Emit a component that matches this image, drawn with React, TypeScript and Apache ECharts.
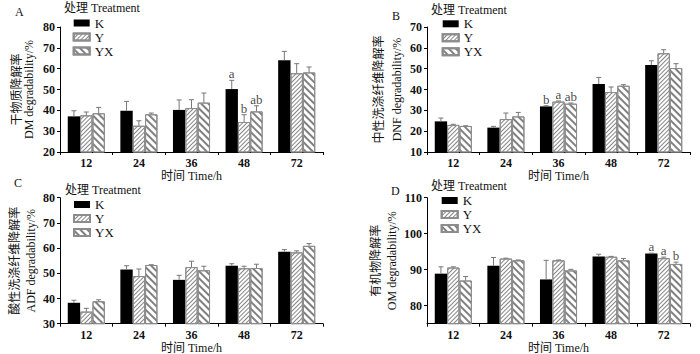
import React, { useEffect, useRef } from "react";
import * as echarts from "echarts";

const categories = ["12", "24", "36", "48", "72"];
const seriesNames = ["K", "Y", "YX"];

// A: DM degradability
const dmK = [37.1, 39.8, 40.2, 50.2, 64.0];
const dmY = [37.6, 32.6, 41.1, 34.4, 57.8];
const dmYX = [38.6, 38.1, 43.7, 39.5, 58.2];
const dmKErr = [2.7, 4.5, 4.8, 4.2, 4.3];
const dmYErr = [1.6, 2.4, 4.0, 3.5, 4.6];
const dmYXErr = [2.8, 0.6, 4.6, 2.7, 2.6];
const dmKSig = ["", "", "", "a", ""];
const dmYSig = ["", "", "", "b", ""];
const dmYXSig = ["", "", "", "ab", ""];

// B: NDF degradability
const dnfK = [24.7, 21.7, 31.9, 42.6, 51.8];
const dnfY = [23.0, 25.8, 34.2, 38.8, 57.4];
const dnfYX = [22.5, 27.1, 33.2, 41.8, 50.3];
const dnfKErr = [1.6, 0.6, 0.3, 3.2, 2.0];
const dnfYErr = [0.3, 2.9, 0.3, 2.4, 1.7];
const dnfYXErr = [0.1, 1.9, 0.3, 0.5, 2.1];
const dnfKSig = ["", "", "b", "", ""];
const dnfYSig = ["", "", "a", "", ""];
const dnfYXSig = ["", "", "ab", "", ""];

// C: ADF degradability
const adfK = [38.3, 51.5, 47.4, 53.0, 58.6];
const adfY = [34.8, 48.9, 52.5, 52.0, 58.3];
const adfYX = [38.9, 53.3, 51.2, 52.1, 60.9];
const adfKErr = [1.0, 1.5, 1.8, 0.8, 0.8];
const adfYErr = [1.3, 2.8, 2.3, 0.8, 0.6];
const adfYXErr = [0.6, 0.1, 1.6, 1.5, 0.9];
const adfKSig = ["", "", "", "", ""];
const adfYSig = ["", "", "", "", ""];
const adfYXSig = ["", "", "", "", ""];

// D: OM degradability
const omK = [88.9, 91.1, 87.3, 93.7, 94.5];
const omY = [90.6, 93.1, 92.6, 93.6, 93.2];
const omYX = [87.0, 92.6, 89.8, 92.6, 91.6];
const omKErr = [1.9, 2.3, 5.3, 0.6, 0.1];
const omYErr = [0.2, 0.1, 0.1, 0.1, 0.3];
const omYXErr = [1.1, 0.1, 0.3, 0.5, 0.5];
const omKSig = ["", "", "", "", "a"];
const omYSig = ["", "", "", "", "a"];
const omYXSig = ["", "", "", "", "b"];

const ticksA = [20, 30, 40, 50, 60, 70, 80];
const ticksB = [10, 20, 30, 40, 50, 60, 70];
const ticksC = [30, 40, 50, 60, 70, 80];
const ticksD = [80, 90, 100, 110];

const FONT = "'Liberation Serif', 'Times New Roman', 'Noto Sans CJK SC', serif";
const GAP = 0.295;
const BAND = 263 / 5;
const BAR_W = (BAND * (1 - GAP)) / 3;

const panels = [
  {
    tag: "A",
    grid: { left: 60, top: 27, width: 263, height: 125 },
    min: 20, max: 80, ticks: ticksA,
    yName: "干物质降解率\nDM degradability/%", nameGap: 25, nameLH: 12,
    values: [dmK, dmY, dmYX], errs: [dmKErr, dmYErr, dmYXErr], sig: [dmKSig, dmYSig, dmYXSig],
    legend: { left: 72.7, top: 16.5 },
    tagPos: [15, 11.5], titlePos: [64, 7.5],
  },
  {
    tag: "B",
    grid: { left: 427, top: 27, width: 263, height: 125 },
    min: 10, max: 70, ticks: ticksB,
    yName: "中性洗涤纤维降解率\nDNF degradability/%", nameGap: 21, nameLH: 18,
    values: [dnfK, dnfY, dnfYX], errs: [dnfKErr, dnfYErr, dnfYXErr], sig: [dnfKSig, dnfYSig, dnfYXSig],
    legend: { left: 441.7, top: 17.3 },
    tagPos: [392, 15.5], titlePos: [431, 10],
  },
  {
    tag: "C",
    grid: { left: 60, top: 197.7, width: 263, height: 126 },
    min: 30, max: 80, ticks: ticksC,
    yName: "酸性洗涤纤维降解率\nADF degradability/%", nameGap: 21, nameLH: 16,
    values: [adfK, adfY, adfYX], errs: [adfKErr, adfYErr, adfYXErr], sig: [adfKSig, adfYSig, adfYXSig],
    legend: { left: 73, top: 198 },
    tagPos: [14, 183], titlePos: [65, 190],
  },
  {
    tag: "D",
    grid: { left: 427, top: 197.7, width: 263, height: 126 },
    min: 75, max: 110, ticks: ticksD,
    yName: "有机物降解率\nOM degradability/%", nameGap: 23, nameLH: 16,
    values: [omK, omY, omYX], errs: [omKErr, omYErr, omYXErr], sig: [omKSig, omYSig, omYXSig],
    legend: { left: 440.7, top: 194 },
    tagPos: [391, 191], titlePos: [431, 186],
  },
];

const barStyles = [
  { color: "#000", borderColor: "#000", borderWidth: 0 },
  {
    color: "#fff", borderColor: "#8c8c8c", borderWidth: 1,
    decal: { symbol: "rect", symbolSize: 1, dashArrayX: [1, 0], dashArrayY: [1, 1.5], rotation: -Math.PI / 4, color: "#858585" },
  },
  {
    color: "#fff", borderColor: "#8c8c8c", borderWidth: 1,
    decal: { symbol: "rect", symbolSize: 1, dashArrayX: [1, 0], dashArrayY: [1.3, 3], rotation: Math.PI / 4, color: "#808080" },
  },
];

function buildOption() {
  const grid: any[] = [];
  const xAxis: any[] = [];
  const yAxis: any[] = [];
  const series: any[] = [];
  const legend: any[] = [];
  const graphic: any[] = [];

  panels.forEach((p, i) => {
    grid.push({ ...p.grid, outerBoundsMode: "none", containLabel: false });
    xAxis.push({
      type: "category", gridIndex: i, data: categories,
      name: "时间 Time/h", nameLocation: "middle", nameGap: 16,
      nameTextStyle: { fontFamily: FONT, fontSize: 12, color: "#111" },
      axisLine: { show: true, lineStyle: { color: "#000", width: 1 } },
      axisTick: { show: true, length: 3, inside: false, alignWithLabel: false, lineStyle: { color: "#000" } },
      axisLabel: { fontFamily: FONT, fontSize: 12, fontWeight: "bold", color: "#111", margin: 5 },
      splitLine: { show: false },
    });
    yAxis.push({
      type: "value", gridIndex: i, min: p.min, max: p.max,
      name: p.yName, nameLocation: "middle", nameGap: p.nameGap, nameRotate: 90,
      nameTextStyle: { fontFamily: FONT, fontSize: 12, color: "#111", lineHeight: p.nameLH },
      axisLine: { show: true, lineStyle: { color: "#000", width: 1 } },
      axisTick: { show: true, length: 3, inside: false, customValues: p.ticks, lineStyle: { color: "#000" } },
      axisLabel: { fontFamily: FONT, fontSize: 12, fontWeight: "bold", color: "#111", margin: 5, customValues: p.ticks },
      splitLine: { show: false },
    });
    const items: any[] = [];
    seriesNames.forEach((name, s) => {
      series.push({
        type: "bar", name, xAxisIndex: i, yAxisIndex: i,
        data: p.values[s], barGap: "0%", barCategoryGap: (GAP * 100) + "%",
        itemStyle: barStyles[s], z: 2,
      });
      const sigData: any[] = [];
      p.values[s].forEach((v, c) => {
        items.push({ cat: c, value: v, err: p.errs[s][c], s });
        if (p.sig[s][c]) sigData.push({ value: [c, v + p.errs[s][c]], sig: p.sig[s][c] });
      });
      if (sigData.length) {
        series.push({
          type: "scatter", name: "sig" + i + "_" + s, xAxisIndex: i, yAxisIndex: i, z: 6,
          symbolSize: 0.1, itemStyle: { color: "rgba(0,0,0,0)" }, silent: true,
          data: sigData,
          label: {
            show: true, position: "top", distance: 0, offset: [(s - 1) * BAR_W, 0],
            formatter: (pp: any) => pp.data.sig,
            color: "#111", fontFamily: FONT, fontSize: 13,
          },
        });
      }
    });
    series.push({
      type: "custom", name: "err" + i, xAxisIndex: i, yAxisIndex: i, z: 5,
      itemStyle: { color: "#777" }, silent: true,
      data: items.map((it) => [it.cat, it.value + it.err]),
      renderItem: (params: any, api: any) => {
        const it = items[params.dataIndex];
        const base = api.coord([it.cat, it.value]);
        const top = api.coord([it.cat, it.value + it.err]);
        const band = api.size([1, 0])[0];
        const bw = (band * (1 - GAP)) / 3;
        const x = base[0] + (it.s - 1) * bw;
        const children: any[] = [];
        if (it.err > 0.05) {
          children.push({
            type: "line", shape: { x1: x, y1: base[1], x2: x, y2: top[1] },
            style: { stroke: "#777", lineWidth: 1 },
          });
          children.push({
            type: "line", shape: { x1: x - 2.5, y1: top[1], x2: x + 2.5, y2: top[1] },
            style: { stroke: "#777", lineWidth: 1 },
          });
        }
        return { type: "group", children };
      },
    });
    legend.push({
      data: seriesNames, orient: "vertical", left: p.legend.left, top: p.legend.top,
      padding: 0, itemGap: 1, itemWidth: 16, itemHeight: 7, icon: "rect",
      selectedMode: false,
      textStyle: { fontFamily: FONT, fontSize: 13, color: "#111", lineHeight: 13 },
    });
    graphic.push({
      type: "text", x: p.tagPos[0], y: p.tagPos[1],
      style: { text: p.tag, fontFamily: FONT, fontSize: 12, fill: "#111", verticalAlign: "middle", align: "left" },
    });
    graphic.push({
      type: "text", x: p.titlePos[0], y: p.titlePos[1],
      style: { text: "处理 Treatment", fontFamily: FONT, fontSize: 12, fill: "#111", verticalAlign: "middle", align: "left" },
    });
  });

  return { animation: false, backgroundColor: "#fff", grid, xAxis, yAxis, series, legend, graphic };
}

export default function App() {
  const ref = useRef<HTMLDivElement>(null);
  useEffect(() => {
    document.body.style.margin = "0";
    if (!ref.current) return;
    const chart = echarts.init(ref.current, null, { renderer: "svg" });
    chart.setOption(buildOption() as any);
    return () => chart.dispose();
  }, []);
  return <div ref={ref} style={{ width: 700, height: 354 }} />;
}
